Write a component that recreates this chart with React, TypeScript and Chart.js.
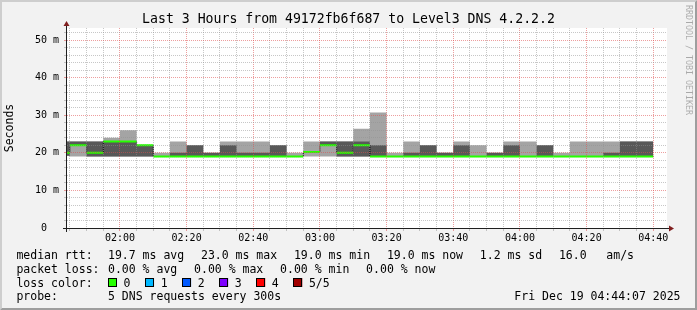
import React, { useEffect, useRef } from "react";
import { Chart, registerables } from "chart.js";

Chart.register(...registerables);

// ---- data ----
const rangeStart = "01:44:07";
const rangeEnd = "04:44:07";
const stepMinutes = 5;

const intervalStarts = [
  "01:40", "01:45", "01:50", "01:55", "02:00", "02:05", "02:10", "02:15", "02:20",
  "02:25", "02:30", "02:35", "02:40", "02:45", "02:50", "02:55", "03:00", "03:05",
  "03:10", "03:15", "03:20", "03:25", "03:30", "03:35", "03:40", "03:45", "03:50",
  "03:55", "04:00", "04:05", "04:10", "04:15", "04:20", "04:25", "04:30", "04:35",
];
// five sorted ping RTTs (ms) per interval
const ping1 = [19.2, 19.0, 19.0, 19.0, 19.0, 19.0, 19.0, 19.0, 19.0, 19.0, 19.0, 19.0, 19.0, 19.0, 19.0, 19.0, 19.0, 19.0, 19.0, 19.0, 19.0, 19.0, 19.0, 19.0, 19.0, 19.0, 19.0, 19.0, 19.0, 19.0, 19.0, 19.0, 19.0, 19.0, 19.0, 19.0];
const ping2 = [19.2, 22.0, 19.0, 19.0, 19.0, 19.0, 19.0, 19.0, 19.0, 19.0, 19.0, 19.0, 19.0, 19.0, 19.0, 20.1, 22.0, 19.0, 19.0, 19.0, 19.0, 19.0, 19.0, 19.0, 19.0, 19.0, 19.0, 19.0, 19.0, 19.0, 19.0, 19.0, 19.0, 19.0, 19.0, 19.0];
const pingMedian = [20.0, 22.0, 20.0, 23.0, 23.0, 22.0, 19.0, 19.0, 19.0, 19.0, 19.0, 19.0, 19.0, 19.0, 19.0, 20.2, 22.0, 20.0, 22.0, 19.0, 19.0, 19.0, 19.0, 19.0, 19.0, 19.0, 19.0, 19.0, 19.0, 19.0, 19.0, 19.0, 19.0, 19.0, 19.0, 19.0];
const ping4 = [23.0, 23.0, 23.0, 23.1, 23.1, 22.0, 19.0, 20.0, 22.0, 20.0, 22.0, 20.0, 20.0, 22.0, 19.0, 20.3, 23.0, 23.0, 23.0, 22.0, 19.0, 20.0, 22.0, 20.0, 22.0, 19.0, 20.0, 22.0, 19.0, 22.0, 19.0, 19.0, 19.0, 20.0, 23.0, 23.0];
const ping5 = [23.0, 23.0, 23.0, 24.0, 26.0, 22.0, 20.0, 23.0, 22.0, 20.0, 23.0, 23.0, 23.0, 22.0, 20.0, 23.0, 23.0, 23.0, 26.4, 30.7, 20.0, 23.0, 22.0, 20.0, 23.0, 22.0, 20.0, 23.0, 23.0, 22.0, 20.0, 23.0, 23.0, 23.0, 23.0, 23.0];

const yMax = 53.2;
const yLabelValues = [0, 10, 20, 30, 40, 50];
const yLabelTexts = ["0  ", "10 m", "20 m", "30 m", "40 m", "50 m"];
const xLabelTexts = ["02:00", "02:20", "02:40", "03:00", "03:20", "03:40", "04:00", "04:20", "04:40"];

const titleText = "Last 3 Hours from 49172fb6f687 to Level3 DNS 4.2.2.2";
const yAxisTitle = "Seconds";
const watermark = "RRDTOOL / TOBI OETIKER";
const rttStats = ["19.7 ms avg", "23.0 ms max", "19.0 ms min", "19.0 ms now", "1.2 ms sd", "16.0", "am/s"];
const lossStats = ["0.00 % avg", "0.00 % max", "0.00 % min", "0.00 % now"];
const lossLabels = ["0", "1", "2", "3", "4", "5/5"];
const lossColors = ["#26ff00", "#00b8ff", "#0059ff", "#7e00ff", "#ff0000", "#a10000"];
const probeText = "5 DNS requests every 300s";
const dateText = "Fri Dec 19 04:44:07 2025";

// ---- helpers ----
const toMin = (t: string) => {
  const p = t.split(":").map(Number);
  return p[0] * 60 + p[1] + (p[2] || 0) / 60;
};
const xMin = toMin(rangeStart);
const xMax = toMin(rangeEnd);

const stepPoints = (vals: number[]) => {
  const pts = intervalStarts.map((t, i) => ({ x: toMin(t), y: vals[i] }));
  const last = intervalStarts.length - 1;
  pts.push({ x: toMin(intervalStarts[last]) + stepMinutes, y: vals[last] });
  return pts;
};
const segmentPoints = (vals: number[]) => {
  const pts: { x: number; y: number | null }[] = [];
  intervalStarts.forEach((t, i) => {
    const s = toMin(t);
    pts.push({ x: s, y: vals[i] }, { x: s + stepMinutes, y: vals[i] }, { x: s + stepMinutes, y: null });
  });
  return pts;
};

const MONO = '"DejaVu Sans Mono", monospace';
const minorGrid = "rgba(143,143,143,0.5)";
const majorGrid = "rgba(222,79,79,0.55)";

const rrdPlugin = {
  id: "rrdFrame",
  beforeDraw(chart: any) {
    const { ctx, width: W, height: H, chartArea: a } = chart;
    ctx.save();
    ctx.fillStyle = "#f2f2f2";
    ctx.fillRect(0, 0, W, H);
    ctx.fillStyle = "#cecece";
    ctx.beginPath();
    ctx.moveTo(0, H); ctx.lineTo(2, H - 2); ctx.lineTo(2, 2); ctx.lineTo(W - 2, 2); ctx.lineTo(W, 0); ctx.lineTo(0, 0);
    ctx.closePath(); ctx.fill();
    ctx.fillStyle = "#9e9e9e";
    ctx.beginPath();
    ctx.moveTo(2, H - 2); ctx.lineTo(W - 2, H - 2); ctx.lineTo(W - 2, 2); ctx.lineTo(W, 0); ctx.lineTo(W, H); ctx.lineTo(0, H);
    ctx.closePath(); ctx.fill();
    ctx.fillStyle = "#ffffff";
    ctx.fillRect(a.left, a.top, a.right - a.left, a.bottom - a.top);
    ctx.restore();
  },
  afterDraw(chart: any) {
    const { ctx, width: W, chartArea: a } = chart;
    ctx.save();
    // axes
    const ax = a.left - 0.5;
    const ay = a.bottom + 0.5;
    ctx.strokeStyle = "#1f1f1f";
    ctx.lineWidth = 1;
    ctx.beginPath();
    ctx.moveTo(a.left - 4, ay); ctx.lineTo(a.right + 4, ay);
    ctx.moveTo(ax, a.bottom + 4); ctx.lineTo(ax, a.top - 4);
    ctx.stroke();
    ctx.fillStyle = "#801f1f";
    ctx.beginPath();
    ctx.moveTo(a.right + 2, ay - 3); ctx.lineTo(a.right + 2, ay + 3); ctx.lineTo(a.right + 7, ay); ctx.closePath(); ctx.fill();
    ctx.beginPath();
    ctx.moveTo(ax - 3, a.top - 2); ctx.lineTo(ax + 3, a.top - 2); ctx.lineTo(ax, a.top - 7); ctx.closePath(); ctx.fill();

    // title
    ctx.fillStyle = "#000";
    ctx.font = `13.2px ${MONO}`;
    ctx.textAlign = "center";
    ctx.textBaseline = "middle";
    ctx.fillText(titleText, W / 2, 19.5);

    // y axis title
    ctx.save();
    ctx.font = `11.5px ${MONO}`;
    ctx.translate(10.5, (a.top + a.bottom) / 2);
    ctx.rotate(-Math.PI / 2);
    ctx.fillText(yAxisTitle, 0, 0);
    ctx.restore();

    // watermark
    ctx.save();
    ctx.font = `8.3px ${MONO}`;
    ctx.fillStyle = "rgba(0,0,0,0.3)";
    ctx.translate(688.5, 5);
    ctx.rotate(Math.PI / 2);
    ctx.textAlign = "left";
    ctx.textBaseline = "middle";
    ctx.fillText(watermark, 0, 0);
    ctx.restore();

    // legend
    ctx.font = `11.5px ${MONO}`;
    ctx.textAlign = "left";
    ctx.textBaseline = "alphabetic";
    ctx.fillStyle = "#000";
    const rows = [258.8, 272.5, 286.5, 300.3];
    const gap = 16.8;
    ctx.fillText("median rtt:", 16.4, rows[0]);
    let x = 108;
    rttStats.forEach((t, i) => {
      if (i === rttStats.length - 1) x = 634 - ctx.measureText(t).width;
      ctx.fillText(t, x, rows[0]);
      x += ctx.measureText(t).width + gap;
    });
    ctx.fillText("packet loss:", 16.4, rows[1]);
    x = 108;
    lossStats.forEach((t) => {
      ctx.fillText(t, x, rows[1]);
      x += ctx.measureText(t).width + gap;
    });
    ctx.fillText("loss color:", 16.4, rows[2]);
    lossLabels.forEach((t, i) => {
      const bx = 108 + i * 37.06;
      ctx.fillStyle = lossColors[i];
      ctx.fillRect(bx, 278, 9, 9);
      ctx.strokeStyle = "#000";
      ctx.strokeRect(Math.round(bx) + 0.5, 278.5, 8, 8);
      ctx.fillStyle = "#000";
      ctx.fillText(t, bx + 15.6, rows[2]);
    });
    ctx.fillText("probe:", 16.4, rows[3]);
    ctx.fillText(probeText, 108, rows[3]);
    ctx.textAlign = "right";
    ctx.fillText(dateText, 680.5, rows[3]);
    ctx.restore();
  },
};

export default function App() {
  const ref = useRef<HTMLCanvasElement | null>(null);
  useEffect(() => {
    if (!ref.current) return;
    const xTicks: number[] = [];
    for (let v = Math.ceil(xMin / stepMinutes) * stepMinutes; v <= xMax; v += stepMinutes) xTicks.push(v);
    const yTicks: number[] = [];
    for (let v = 0; v <= yMax; v += 2) yTicks.push(v);
    const isMajorX = (v: number) => Math.round(v) % 20 === 0;
    const isMajorY = (v: number) => Math.round(v) % 10 === 0;
    const fmt = (m: number) => {
      const h = Math.floor(m / 60), mm = Math.round(m % 60);
      return `${String(h).padStart(2, "0")}:${String(mm).padStart(2, "0")}`;
    };
    const hidden = "rgba(0,0,0,0)";

    const chart = new Chart(ref.current, {
      type: "line",
      data: {
        datasets: [
          { data: segmentPoints(pingMedian), borderColor: "#26ff00", borderWidth: 2, spanGaps: false, fill: false, borderCapStyle: "butt" },
          { data: stepPoints(pingMedian), stepped: true, borderColor: "#000", borderWidth: 1, borderDash: [1, 1], fill: false },
          { data: stepPoints(ping4), stepped: true, borderColor: hidden, borderWidth: 1, fill: 3, backgroundColor: "#585858" },
          { data: stepPoints(ping2), stepped: true, borderColor: hidden, borderWidth: 1, fill: false },
          { data: stepPoints(ping5), stepped: true, borderColor: hidden, borderWidth: 1, fill: 5, backgroundColor: "#a4a4a4" },
          { data: stepPoints(ping1), stepped: true, borderColor: hidden, borderWidth: 1, fill: false },
        ] as any,
      },
      options: {
        animation: false,
        responsive: false,
        devicePixelRatio: 1,
        events: [],
        layout: { padding: { left: 0, right: 30, top: 28, bottom: 0 } },
        elements: { point: { radius: 0 }, line: { tension: 0 } },
        plugins: { legend: { display: false }, tooltip: { enabled: false }, title: { display: false } },
        scales: {
          x: {
            type: "linear",
            min: xMin,
            max: xMax,
            afterFit: (s: any) => { s.height = 82; },
            afterBuildTicks: (s: any) => { s.ticks = xTicks.map((v) => ({ value: v })); },
            ticks: {
              autoSkip: false,
              maxRotation: 0,
              minRotation: 0,
              padding: 1,
              color: "#000",
              font: { family: MONO, size: 10 },
              callback: (v: any) => {
                const s = fmt(Number(v));
                return isMajorX(Number(v)) && xLabelTexts.includes(s) ? s : "";
              },
            },
            grid: {
              z: 1,
              lineWidth: 1,
              tickLength: 3,
              color: (c: any) => (isMajorX(c.tick.value) ? majorGrid : minorGrid),
              tickColor: (c: any) => (isMajorX(c.tick.value) ? majorGrid : minorGrid),
            },
            border: { display: false, dash: [1, 1] },
          },
          y: {
            type: "linear",
            min: 0,
            max: yMax,
            afterFit: (s: any) => { s.width = 67; },
            afterBuildTicks: (s: any) => { s.ticks = yTicks.map((v) => ({ value: v })); },
            ticks: {
              autoSkip: false,
              padding: 5,
              color: "#000",
              font: { family: MONO, size: 10 },
              callback: (v: any) => {
                const i = yLabelValues.indexOf(Number(v));
                return i >= 0 ? yLabelTexts[i] : "";
              },
            },
            grid: {
              z: 1,
              lineWidth: 1,
              tickLength: 3,
              color: (c: any) => (isMajorY(c.tick.value) ? majorGrid : minorGrid),
              tickColor: (c: any) => (isMajorY(c.tick.value) ? majorGrid : minorGrid),
            },
            border: { display: false, dash: [1, 1] },
          },
        },
      } as any,
      plugins: [rrdPlugin],
    });
    return () => chart.destroy();
  }, []);

  return (
    <div style={{ position: "fixed", left: 0, top: 0, width: 697, height: 310 }}>
      <canvas ref={ref} width={697} height={310} style={{ display: "block", width: 697, height: 310 }} />
    </div>
  );
}
